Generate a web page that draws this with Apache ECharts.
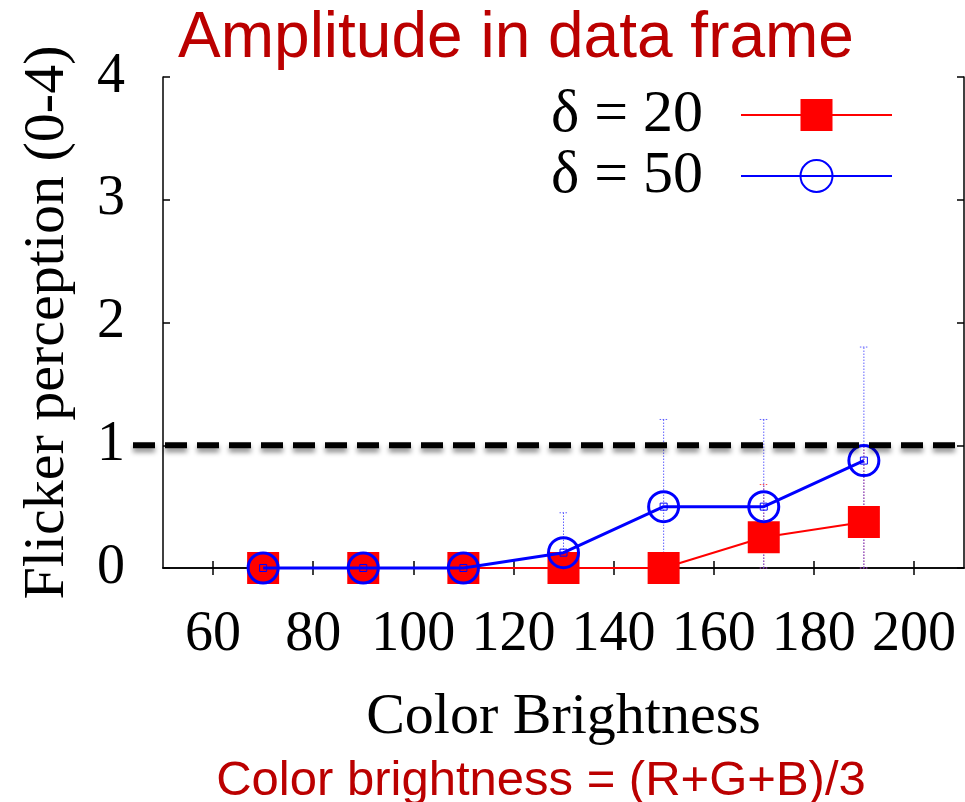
<!DOCTYPE html>
<html>
<head>
<meta charset="utf-8">
<script src="https://cdn.jsdelivr.net/npm/echarts@6/dist/echarts.min.js"></script>
<style>html,body{margin:0;padding:0;background:#fff}#c{width:965px;height:802px}</style>
</head>
<body>
<div id="c"></div>
<script>
const brightness = [70, 90, 110, 130, 150, 170, 190];
const delta20 = [0, 0, 0, 0, 0, 0.25, 0.375];
const delta50 = [0, 0, 0, 0.125, 0.5, 0.5, 0.875];
// error bars: [x, mean, low, high]
const err20 = [[170, 0.25, 0, 0.68], [190, 0.375, 0, 1.0]];
const err50 = [[70, 0, 0, 0], [90, 0, 0, 0], [110, 0, 0, 0], [130, 0.125, 0, 0.45], [150, 0.5, 0, 1.21], [170, 0.5, 0, 1.21], [190, 0.875, 0, 1.8]];
const xTicks = [60, 80, 100, 120, 140, 160, 180, 200];
const threshold = [[44, 1], [210, 1]];

const serif = 'Liberation Serif';
const sans = 'Liberation Sans';

function errRender(color, showBox) {
  return function (params, api) {
    const x = api.value(0), m = api.value(1), lo = api.value(2), hi = api.value(3);
    const pm = api.coord([x, m]);
    const pl = api.coord([x, lo]);
    const ph = api.coord([x, hi]);
    const st = { stroke: color, lineWidth: 1, lineDash: [1.5, 1.5], fill: null };
    const children = [];
    if (hi > lo) {
      children.push({ type: 'line', shape: { x1: pl[0], y1: pl[1], x2: ph[0], y2: ph[1] }, style: st });
      children.push({ type: 'line', shape: { x1: ph[0] - 4, y1: ph[1], x2: ph[0] + 4, y2: ph[1] }, style: st });
      children.push({ type: 'line', shape: { x1: pl[0] - 4, y1: pl[1], x2: pl[0] + 4, y2: pl[1] }, style: st });
    }
    if (showBox) {
      children.push({ type: 'rect', shape: { x: pm[0] - 3.5, y: pm[1] - 3.5, width: 7, height: 7 }, style: { stroke: '#0000ff', lineWidth: 1, fill: null }, z2: 10 });
    }
    return { type: 'group', children: children };
  };
}

const axisLineStyle = { color: '#000', width: 1.5 };

const chart = echarts.init(document.getElementById('c'));
chart.setOption({
  animation: false,
  backgroundColor: '#ffffff',
  title: [
    { text: 'Amplitude in data frame', left: 511, top: 2, textAlign: 'center',
      textStyle: { fontFamily: sans, fontSize: 64, fontWeight: 'normal', color: '#bb0000' } },
    { text: 'Color brightness = (R+G+B)/3', left: 536, top: 752, textAlign: 'center',
      textStyle: { fontFamily: sans, fontSize: 49, fontWeight: 'normal', color: '#bb0000' } }
  ],
  grid: [
    { left: 163, top: 77, right: 1, bottom: 234, containLabel: false, outerBoundsMode: 'none' },
    { left: 133, top: 77, right: 1, bottom: 234, containLabel: false, outerBoundsMode: 'none' }
  ],
  legend: {
    orient: 'vertical', right: 72, top: 85, align: 'right', padding: 0,
    itemWidth: 151, itemHeight: 40, itemGap: 1,
    data: ['δ = 20', 'δ = 50'],
    textStyle: { fontFamily: serif, fontSize: 60, color: '#000', padding: [0, 33, 0, 0], lineHeight: 59 }
  },
  xAxis: [
    { type: 'value', min: 50, max: 210, position: 'bottom', gridIndex: 0,
      name: 'Color Brightness', nameLocation: 'middle', nameGap: 121, nameMoveOverlap: false,
      nameTextStyle: { fontFamily: serif, fontSize: 58, color: '#000' },
      axisLine: { show: true, lineStyle: axisLineStyle },
      axisTick: { show: true, inside: true, length: 7, customValues: xTicks, lineStyle: axisLineStyle },
      axisLabel: { customValues: xTicks, fontFamily: serif, fontSize: 56, color: '#000', margin: 39 },
      splitLine: { show: false } },
    { type: 'value', min: 50, max: 210, position: 'top', gridIndex: 0,
      axisLine: { show: true, lineStyle: axisLineStyle },
      axisTick: { show: true, inside: true, length: 7, customValues: xTicks, lineStyle: axisLineStyle },
      axisLabel: { show: false }, splitLine: { show: false } },
    { type: 'value', min: 44, max: 210, gridIndex: 1, show: false, splitLine: { show: false } }
  ],
  yAxis: [
    { type: 'value', min: 0, max: 4, interval: 1, position: 'left', gridIndex: 0,
      name: 'Flicker perception (0-4)', nameLocation: 'middle', nameGap: 86, nameMoveOverlap: false,
      nameTextStyle: { fontFamily: serif, fontSize: 58, color: '#000' },
      axisLine: { show: true, lineStyle: axisLineStyle },
      axisTick: { show: true, inside: true, length: 7, lineStyle: axisLineStyle },
      axisLabel: { fontFamily: serif, fontSize: 56, color: '#000', margin: 38 },
      splitLine: { show: false } },
    { type: 'value', min: 0, max: 4, interval: 1, position: 'right', gridIndex: 0,
      axisLine: { show: true, lineStyle: axisLineStyle },
      axisTick: { show: true, inside: true, length: 7, lineStyle: axisLineStyle },
      axisLabel: { show: false }, splitLine: { show: false } },
    { type: 'value', min: 0, max: 4, gridIndex: 1, show: false, splitLine: { show: false } }
  ],
  series: [
    { name: 'err20', type: 'custom', renderItem: errRender('rgba(255,60,60,0.9)', false),
      data: err20, encode: { x: 0, y: [1, 2, 3] }, z: 1, clip: false },
    { name: 'err50', type: 'custom', renderItem: errRender('rgba(70,70,255,0.85)', false),
      data: err50, encode: { x: 0, y: [1, 2, 3] }, z: 1, clip: false },
    { name: 'δ = 20', type: 'line', data: brightness.map((b, i) => [b, delta20[i]]),
      symbol: 'rect', symbolSize: 32, showSymbol: true,
      lineStyle: { color: '#ff0000', width: 2 }, itemStyle: { color: '#ff0000' }, z: 3, clip: false },
    { name: 'δ = 50', type: 'line', data: brightness.map((b, i) => [b, delta50[i]]),
      symbol: 'circle', symbolSize: 30,
      lineStyle: { color: '#0000ff', width: 3 },
      itemStyle: { color: 'rgba(255,255,255,0)', borderColor: '#0000ff', borderWidth: 3 }, z: 4, clip: false },
    { name: 'boxes', type: 'custom', renderItem: errRender('rgba(0,0,0,0)', true),
      data: err50.map(d => [d[0], d[1], d[1], d[1]]), encode: { x: 0, y: 1 }, z: 5, clip: false },
    { name: 'threshold', type: 'line', data: threshold, symbol: 'none', clip: false, silent: true,
      xAxisIndex: 2, yAxisIndex: 2,
      lineStyle: { color: '#000', width: 6, type: [22, 10], shadowColor: 'rgba(0,0,0,0.45)', shadowBlur: 5, shadowOffsetY: 4 },
      z: 6 }
  ]
});
</script>
</body>
</html>
